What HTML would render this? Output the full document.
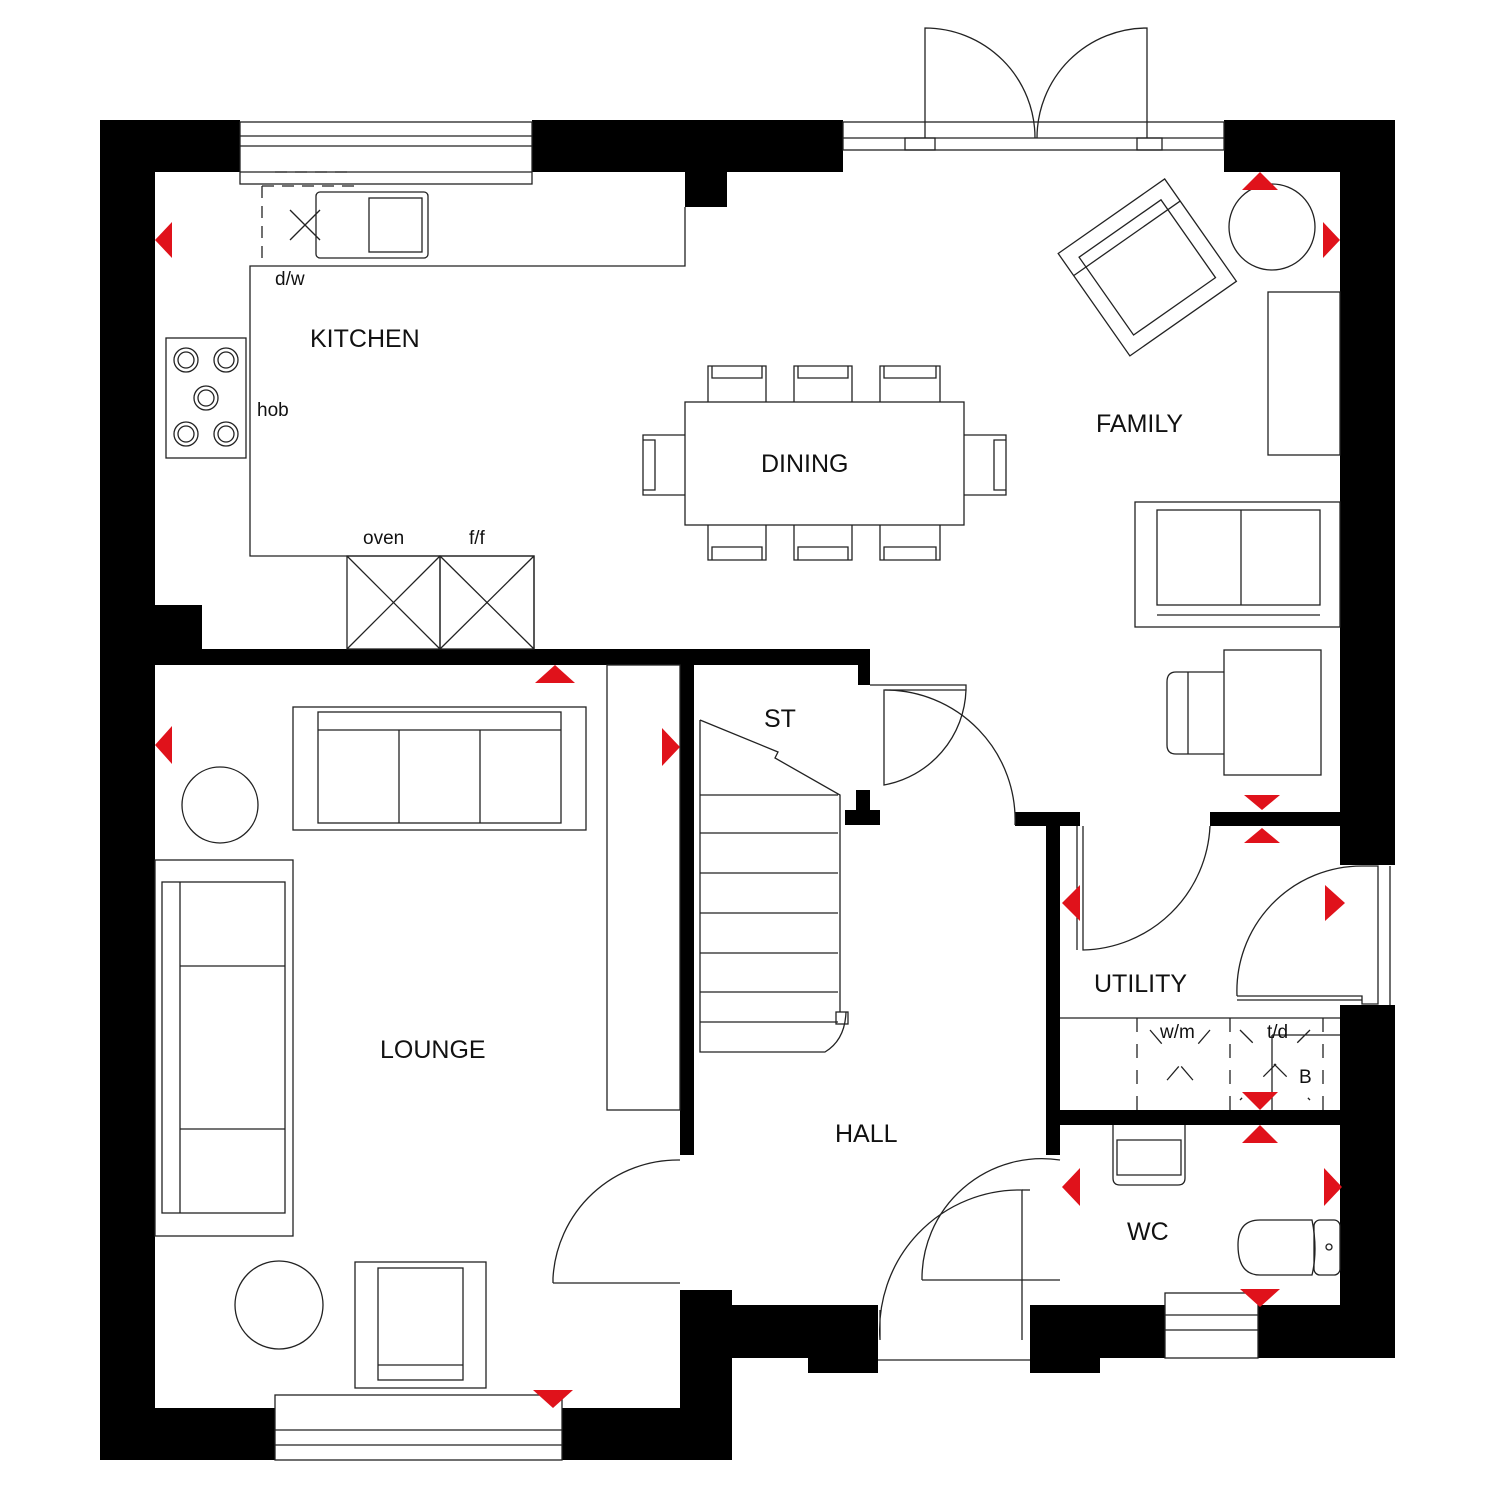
<!DOCTYPE html>
<html><head><style>html,body{margin:0;padding:0;background:#fff}svg{display:block}text{font-family:"Liberation Sans",sans-serif;fill:#111}</style></head><body>
<svg width="1500" height="1500" viewBox="0 0 1500 1500" xmlns="http://www.w3.org/2000/svg">
<g fill="#000">
<rect x="100" y="120" width="55" height="1340"/>
<rect x="100" y="120" width="140" height="52"/>
<rect x="532" y="120" width="311" height="52"/>
<rect x="685" y="172" width="42" height="35"/>
<rect x="1224" y="120" width="171" height="52"/>
<rect x="1340" y="120" width="55" height="745"/>
<rect x="1340" y="1005" width="55" height="353"/>
<rect x="1258" y="1305" width="137" height="53"/>
<rect x="1030" y="1305" width="135" height="53"/>
<rect x="1030" y="1358" width="70" height="15"/>
<rect x="680" y="1305" width="198" height="53"/>
<rect x="808" y="1358" width="70" height="15"/>
<rect x="680" y="1290" width="52" height="170"/>
<rect x="562" y="1408" width="170" height="52"/>
<rect x="100" y="1408" width="175" height="52"/>
<rect x="100" y="649" width="770" height="16"/>
<rect x="155" y="605" width="47" height="44"/>
<rect x="680" y="665" width="14" height="490"/>
<rect x="858" y="649" width="12" height="36"/>
<rect x="845" y="810" width="35" height="15"/>
<rect x="856" y="790" width="14" height="22"/>
<rect x="1015" y="812" width="65" height="14"/>
<rect x="1046" y="812" width="14" height="343"/>
<rect x="1210" y="812" width="130" height="14"/>
<rect x="1060" y="1110" width="280" height="15"/>
</g>
<g fill="none" stroke="#222" stroke-width="1.3">
<rect x="240" y="122" width="292" height="62"/><line x1="240" y1="136" x2="532" y2="136"/><line x1="240" y1="146" x2="532" y2="146"/><line x1="240" y1="172" x2="532" y2="172"/>
<rect x="843" y="122" width="381" height="28"/><line x1="843" y1="138" x2="1224" y2="138"/><rect x="905" y="138" width="30" height="12"/><rect x="1137" y="138" width="25" height="12"/>
<path d="M925 138 V28 A110 110 0 0 1 1035 138"/><path d="M1147 138 V28 A110 110 0 0 0 1037 138"/>
<path d="M685 207 V266 H250 V556 H534 V649"/>
<rect x="316" y="192" width="112" height="66" rx="4"/><rect x="369" y="198" width="53" height="54"/>
<path d="M262 186 V262 M262 186 H355 M275 172 L355 172" stroke-dasharray="12 8"/>
<line x1="290" y1="210" x2="320" y2="240"/><line x1="320" y1="210" x2="290" y2="240"/>
<rect x="347" y="556" width="93" height="93"/><rect x="440" y="556" width="94" height="93"/>
<line x1="347" y1="556" x2="440" y2="649"/><line x1="440" y1="556" x2="347" y2="649"/>
<line x1="440" y1="556" x2="534" y2="649"/><line x1="534" y1="556" x2="440" y2="649"/>
<rect x="166" y="338" width="80" height="120"/>
<circle cx="186" cy="360" r="12"/><circle cx="186" cy="360" r="8"/><circle cx="226" cy="360" r="12"/><circle cx="226" cy="360" r="8"/>
<circle cx="206" cy="398" r="12"/><circle cx="206" cy="398" r="8"/><circle cx="186" cy="434" r="12"/><circle cx="186" cy="434" r="8"/><circle cx="226" cy="434" r="12"/><circle cx="226" cy="434" r="8"/>
<rect x="685" y="402" width="279" height="123"/>
<path d="M708 402 V366 H766 V402 M712 366 V378 H762 V366"/><path d="M794 402 V366 H852 V402 M798 366 V378 H848 V366"/><path d="M880 402 V366 H940 V402 M884 366 V378 H936 V366"/>
<path d="M708 525 V560 H766 V525 M712 560 V547 H762 V560"/><path d="M794 525 V560 H852 V525 M798 560 V547 H848 V560"/><path d="M880 525 V560 H940 V525 M884 560 V547 H936 V560"/>
<path d="M685 435 H643 V495 H685 M643 440 H655 V490 H643"/><path d="M964 435 H1006 V495 H964 M1006 440 H994 V490 H1006"/>
<g transform="rotate(-35 1147 267)"><rect x="1082" y="205" width="130" height="125"/><rect x="1097" y="220" width="100" height="95"/><line x1="1082" y1="232" x2="1212" y2="232"/></g>
<circle cx="1272" cy="227" r="43"/>
<rect x="1268" y="292" width="72" height="163"/>
<rect x="1135" y="502" width="205" height="125"/><rect x="1157" y="510" width="163" height="95"/><line x1="1241" y1="510" x2="1241" y2="605"/><line x1="1157" y1="615" x2="1320" y2="615"/>
<rect x="1224" y="650" width="97" height="125"/><path d="M1224 672 H1176 Q1167 672 1167 682 V745 Q1167 754 1176 754 H1224"/><line x1="1188" y1="672" x2="1188" y2="754"/>
<rect x="293" y="707" width="293" height="123"/><rect x="318" y="712" width="243" height="111"/><line x1="318" y1="730" x2="561" y2="730"/><line x1="399" y1="730" x2="399" y2="823"/><line x1="480" y1="730" x2="480" y2="823"/>
<circle cx="220" cy="805" r="38"/>
<rect x="155" y="860" width="138" height="376"/><rect x="162" y="882" width="123" height="331"/><line x1="180" y1="882" x2="180" y2="1213"/><line x1="180" y1="966" x2="285" y2="966"/><line x1="180" y1="1129" x2="285" y2="1129"/>
<circle cx="279" cy="1305" r="44"/>
<rect x="355" y="1262" width="131" height="126"/><rect x="378" y="1268" width="85" height="112"/><line x1="378" y1="1365" x2="463" y2="1365"/>
<rect x="607" y="665" width="73" height="445"/>
<rect x="275" y="1395" width="287" height="65"/><line x1="275" y1="1430" x2="562" y2="1430"/><line x1="275" y1="1445" x2="562" y2="1445"/>
<path d="M553 1283 V1278 A125 125 0 0 1 680 1160 M553 1283 H680"/>
<path d="M880 1340 A140 140 0 0 1 1022 1190 V1340 M880 1340 V1310"/>
<path d="M922 1280 A120 120 0 0 1 1060 1160 M922 1280 H1060"/>
<path d="M1022 1190 H1030"/>
<path d="M878 1360 H1030"/>
<path d="M870 685 H966 V690 H884 V785 A100 100 0 0 0 966 690"/>
<path d="M885 690 A130 130 0 0 1 1015 825"/>
<path d="M1083 826 V950 A130 130 0 0 0 1210 826 M1077 826 V950"/>
<path d="M1237 996 A125 125 0 0 1 1362 866 M1237 996 H1362 V1004 H1378 V866 H1362 M1237 1000 H1362 M1390 866 V1005"/>
<path d="M700 720 L778 752 L775 758 L840 795 V1012"/>
<path d="M700 720 V1052 H825 Q845 1040 846 1012"/>
<line x1="700" y1="795" x2="838" y2="795"/><line x1="700" y1="833" x2="838" y2="833"/><line x1="700" y1="873" x2="838" y2="873"/><line x1="700" y1="913" x2="838" y2="913"/><line x1="700" y1="953" x2="838" y2="953"/><line x1="700" y1="992" x2="838" y2="992"/><line x1="700" y1="1022" x2="838" y2="1022"/>
<rect x="836" y="1012" width="12" height="12"/>
<line x1="1060" y1="1018" x2="1340" y2="1018"/>
<path d="M1137 1018 V1110 M1230 1018 V1110 M1323 1018 V1110" stroke-dasharray="14 12"/>
<line x1="1272" y1="1035" x2="1340" y2="1035"/>
<path d="M1272 1035 V1110"/>
<line x1="1150" y1="1030" x2="1210" y2="1100" stroke-dasharray="18 30"/><line x1="1210" y1="1030" x2="1150" y2="1100" stroke-dasharray="18 30"/>
<line x1="1240" y1="1030" x2="1310" y2="1100" stroke-dasharray="18 30"/><line x1="1310" y1="1030" x2="1240" y2="1100" stroke-dasharray="18 30"/>
<path d="M1113 1125 V1178 Q1113 1185 1120 1185 H1178 Q1185 1185 1185 1178 V1125"/><path d="M1117 1140 H1181 V1175 H1117 Z"/>
<path d="M1312 1220 H1260 Q1238 1220 1238 1245 Q1238 1275 1260 1275 H1312 Q1318 1250 1312 1220 Z"/><rect x="1314" y="1220" width="26" height="55" rx="6"/><circle cx="1329" cy="1247" r="3"/>
<rect x="1165" y="1293" width="93" height="65"/><line x1="1165" y1="1315" x2="1258" y2="1315"/><line x1="1165" y1="1330" x2="1258" y2="1330"/>
</g>
<g fill="#e0121b">
<polygon points="155,240 172,222 172,258"/><polygon points="1340,240 1323,222 1323,258"/><polygon points="1260,172 1242,190 1278,190"/>
<polygon points="555,665 535,683 575,683"/><polygon points="155,745 172,726 172,764"/><polygon points="680,747 662,728 662,766"/>
<polygon points="1262,810 1244,795 1280,795"/><polygon points="1262,828 1244,843 1280,843"/>
<polygon points="1062,903 1080,885 1080,921"/><polygon points="1345,903 1325,885 1325,921"/>
<polygon points="1260,1110 1242,1092 1278,1092"/><polygon points="1260,1125 1242,1143 1278,1143"/>
<polygon points="1062,1187 1080,1168 1080,1206"/><polygon points="1342,1187 1324,1168 1324,1206"/>
<polygon points="1260,1307 1240,1289 1280,1289"/><polygon points="553,1408 533,1390 573,1390"/>
</g>
<g font-size="25">
<text x="310" y="347">KITCHEN</text><text x="761" y="472">DINING</text><text x="1096" y="432">FAMILY</text>
<text x="380" y="1058">LOUNGE</text><text x="764" y="727">ST</text><text x="1094" y="992">UTILITY</text>
<text x="835" y="1142">HALL</text><text x="1127" y="1240">WC</text>
</g>
<g font-size="19">
<text x="275" y="285">d/w</text><text x="257" y="416">hob</text><text x="363" y="544">oven</text><text x="469" y="544">f/f</text>
<text x="1160" y="1038">w/m</text><text x="1267" y="1038">t/d</text><text x="1299" y="1083">B</text>
</g>
</svg>
</body></html>
